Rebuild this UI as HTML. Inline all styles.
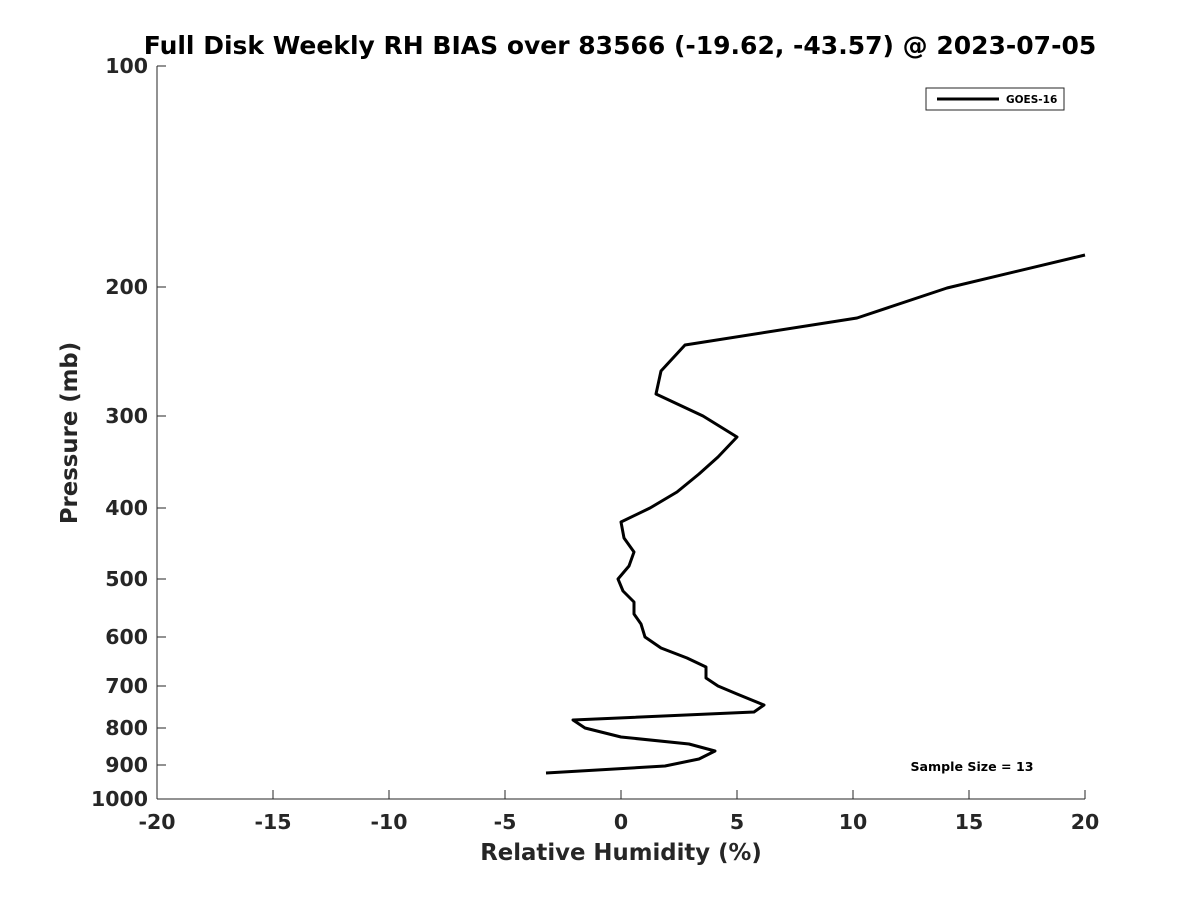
<!DOCTYPE html>
<html><head><style>body{margin:0;background:#fff}</style></head><body>
<svg width="1200" height="900" xmlns="http://www.w3.org/2000/svg" font-family="DejaVu Sans, Liberation Sans, sans-serif" font-weight="bold">
<rect width="1200" height="900" fill="#fff"/>
<text x="620" y="54" font-size="25" text-anchor="middle" fill="#000">Full Disk Weekly RH BIAS over 83566 (-19.62, -43.57) @ 2023-07-05</text>
<g stroke="#262626" stroke-width="1" fill="none">
<line x1="157" y1="66" x2="157" y2="799"/>
<line x1="157" y1="799" x2="1085" y2="799"/>
<line x1="157" y1="66" x2="166" y2="66"/><line x1="157" y1="287" x2="166" y2="287"/>
<line x1="157" y1="416" x2="166" y2="416"/><line x1="157" y1="508" x2="166" y2="508"/>
<line x1="157" y1="579" x2="166" y2="579"/><line x1="157" y1="637" x2="166" y2="637"/>
<line x1="157" y1="686" x2="166" y2="686"/><line x1="157" y1="728" x2="166" y2="728"/>
<line x1="157" y1="765" x2="166" y2="765"/>
<line x1="273" y1="799" x2="273" y2="790"/><line x1="389" y1="799" x2="389" y2="790"/>
<line x1="505" y1="799" x2="505" y2="790"/><line x1="621" y1="799" x2="621" y2="790"/>
<line x1="737" y1="799" x2="737" y2="790"/><line x1="853" y1="799" x2="853" y2="790"/>
<line x1="969" y1="799" x2="969" y2="790"/><line x1="1085" y1="799" x2="1085" y2="790"/>
</g>
<g font-size="20.5" fill="#262626" text-anchor="end">
<text x="148" y="73">100</text><text x="148" y="294">200</text><text x="148" y="423">300</text>
<text x="148" y="515">400</text><text x="148" y="586">500</text><text x="148" y="644">600</text>
<text x="148" y="693">700</text><text x="148" y="735">800</text><text x="148" y="772">900</text>
<text x="148" y="806">1000</text>
</g>
<g font-size="20.5" fill="#262626" text-anchor="middle">
<text x="157" y="829">-20</text><text x="273" y="829">-15</text><text x="389" y="829">-10</text>
<text x="505" y="829">-5</text><text x="621" y="829">0</text><text x="737" y="829">5</text>
<text x="853" y="829">10</text><text x="969" y="829">15</text><text x="1085" y="829">20</text>
</g>
<text x="621" y="860" font-size="22.8" fill="#262626" text-anchor="middle">Relative Humidity (%)</text>
<text transform="translate(77,433) rotate(-90)" font-size="22.8" fill="#262626" text-anchor="middle">Pressure (mb)</text>
<polyline fill="none" stroke="#000" stroke-width="3" stroke-linejoin="round" points="1085,255 947,288 857,318 685,345 661,371 656,394 703,416 737,437 718,457 699,474 677,492 650,508 621,522 624,538 634,552 629,566 618,579 623,591 634,602 634,614 641,624 645,637 661,648 687,658 706,667 706,678 718,686 737,694 764,705 754,712 573,720 585,728 621,737 689,744 715,751 699,759 665,766 546,773"/>
<rect x="926" y="88" width="138" height="22" fill="#fff" stroke="#262626" stroke-width="1"/>
<line x1="937" y1="99" x2="999" y2="99" stroke="#000" stroke-width="3"/>
<text x="1006" y="103" font-size="10.5" fill="#000">GOES-16</text>
<text x="972" y="771" font-size="12.6" fill="#000" text-anchor="middle">Sample Size = 13</text>
</svg>
</body></html>
